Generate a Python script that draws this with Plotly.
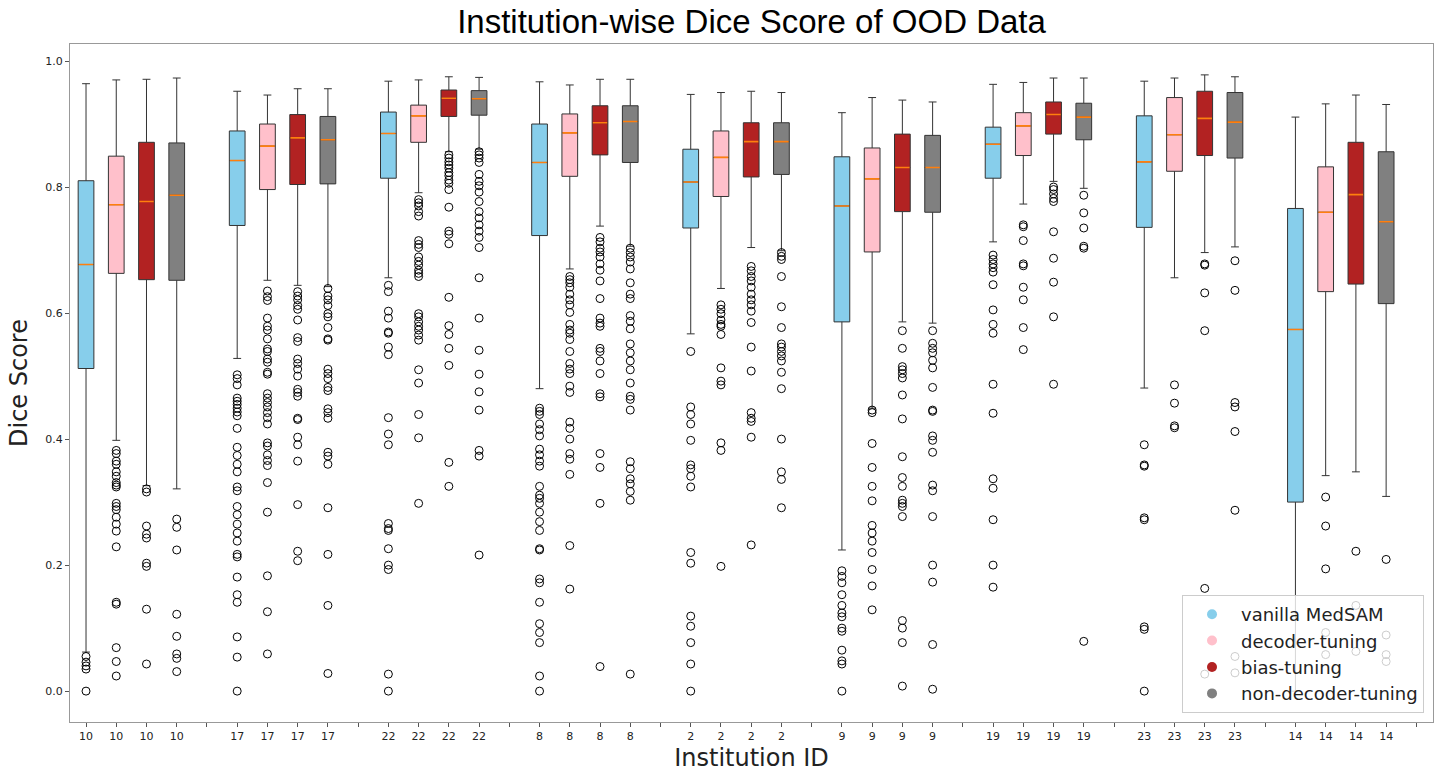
import plotly.graph_objects as go

# institutions in plotting order, methods in legend order
institutions = ["10", "17", "22", "8", "2", "9", "19", "23", "14"]
methods = ["vanilla MedSAM", "decoder-tuning", "bias-tuning", "non-decoder-tuning"]
colors = ["#87CEEB", "#FFC0CB", "#B22222", "#808080"]

# box stats per institution
vanilla_lo = [0.062, 0.528, 0.656, 0.480, 0.567, 0.224, 0.713, 0.481, 0.000]
vanilla_q1 = [0.512, 0.739, 0.814, 0.723, 0.735, 0.586, 0.814, 0.736, 0.300]
vanilla_med = [0.677, 0.842, 0.885, 0.839, 0.808, 0.770, 0.868, 0.840, 0.574]
vanilla_q3 = [0.810, 0.889, 0.919, 0.900, 0.860, 0.848, 0.895, 0.913, 0.766]
vanilla_hi = [0.964, 0.952, 0.968, 0.967, 0.947, 0.918, 0.963, 0.968, 0.911]

decoder_lo = [0.398, 0.652, 0.791, 0.670, 0.639, 0.449, 0.773, 0.656, 0.342]
decoder_q1 = [0.663, 0.796, 0.871, 0.817, 0.785, 0.697, 0.850, 0.825, 0.634]
decoder_med = [0.772, 0.865, 0.913, 0.886, 0.847, 0.813, 0.897, 0.883, 0.760]
decoder_q3 = [0.849, 0.900, 0.930, 0.916, 0.889, 0.862, 0.918, 0.942, 0.832]
decoder_hi = [0.970, 0.946, 0.970, 0.962, 0.950, 0.942, 0.966, 0.973, 0.932]

bias_lo = [0.326, 0.644, 0.856, 0.738, 0.704, 0.586, 0.809, 0.696, 0.348]
bias_q1 = [0.653, 0.804, 0.912, 0.851, 0.816, 0.761, 0.884, 0.850, 0.646]
bias_med = [0.777, 0.878, 0.941, 0.902, 0.872, 0.831, 0.915, 0.909, 0.788]
bias_q3 = [0.871, 0.915, 0.954, 0.929, 0.902, 0.884, 0.935, 0.952, 0.871]
bias_hi = [0.971, 0.956, 0.975, 0.971, 0.952, 0.938, 0.973, 0.978, 0.946]

nondec_lo = [0.321, 0.642, 0.860, 0.706, 0.699, 0.584, 0.798, 0.705, 0.309]
nondec_q1 = [0.652, 0.805, 0.914, 0.839, 0.820, 0.760, 0.875, 0.846, 0.615]
nondec_med = [0.787, 0.875, 0.940, 0.904, 0.872, 0.831, 0.911, 0.903, 0.745]
nondec_q3 = [0.870, 0.912, 0.953, 0.929, 0.902, 0.882, 0.933, 0.950, 0.856]
nondec_hi = [0.973, 0.956, 0.974, 0.971, 0.950, 0.935, 0.973, 0.975, 0.931]

# outliers, one list per institution
vanilla_out = [
    [0.055, 0.046, 0.040, 0.035, 0.0],
    [0.502, 0.496, 0.486, 0.465, 0.460, 0.455, 0.449, 0.443, 0.437, 0.417, 0.387, 0.374, 0.360, 0.348,
     0.324, 0.318, 0.293, 0.280, 0.265, 0.251, 0.238, 0.217, 0.213, 0.181, 0.153, 0.141, 0.086, 0.054, 0.0],
    [0.644, 0.634, 0.603, 0.592, 0.570, 0.568, 0.546, 0.534, 0.434, 0.408, 0.391, 0.266, 0.258, 0.255,
     0.226, 0.200, 0.193, 0.027, 0.0],
    [0.449, 0.444, 0.439, 0.424, 0.415, 0.405, 0.384, 0.375, 0.365, 0.357, 0.325, 0.311, 0.306, 0.298,
     0.284, 0.269, 0.255, 0.226, 0.224, 0.178, 0.172, 0.141, 0.107, 0.093, 0.077, 0.024, 0.0],
    [0.539, 0.451, 0.439, 0.424, 0.398, 0.359, 0.353, 0.341, 0.324, 0.220, 0.203, 0.119, 0.103, 0.077, 0.043, 0.0],
    [0.191, 0.182, 0.172, 0.153, 0.136, 0.124, 0.118, 0.100, 0.095, 0.065, 0.048, 0.043, 0.0],
    [0.692, 0.685, 0.678, 0.672, 0.665, 0.645, 0.605, 0.582, 0.568, 0.487, 0.441, 0.337, 0.322, 0.272, 0.200, 0.165],
    [0.391, 0.359, 0.357, 0.275, 0.272, 0.102, 0.098, 0.0],
    [],
]
decoder_out = [
    [0.382, 0.377, 0.365, 0.360, 0.348, 0.341, 0.331, 0.327, 0.324, 0.298, 0.293, 0.288, 0.276, 0.265,
     0.254, 0.229, 0.141, 0.138, 0.069, 0.047, 0.024],
    [0.635, 0.626, 0.620, 0.592, 0.579, 0.573, 0.559, 0.543, 0.539, 0.527, 0.522, 0.506, 0.503, 0.472,
     0.465, 0.458, 0.451, 0.442, 0.434, 0.424, 0.394, 0.389, 0.375, 0.366, 0.358, 0.331, 0.284, 0.183, 0.126, 0.059],
    [0.780, 0.775, 0.770, 0.761, 0.754, 0.715, 0.709, 0.704, 0.689, 0.682, 0.676, 0.668, 0.663, 0.658,
     0.599, 0.594, 0.586, 0.579, 0.573, 0.565, 0.557, 0.510, 0.489, 0.439, 0.402, 0.298],
    [0.658, 0.653, 0.648, 0.641, 0.630, 0.621, 0.613, 0.601, 0.582, 0.573, 0.568, 0.558, 0.539, 0.520,
     0.511, 0.504, 0.484, 0.474, 0.427, 0.417, 0.400, 0.377, 0.368, 0.344, 0.231, 0.162],
    [0.613, 0.606, 0.599, 0.589, 0.582, 0.579, 0.566, 0.513, 0.492, 0.486, 0.394, 0.382, 0.198],
    [0.446, 0.442, 0.393, 0.355, 0.325, 0.302, 0.263, 0.251, 0.238, 0.220, 0.193, 0.167, 0.129],
    [0.740, 0.737, 0.715, 0.678, 0.675, 0.641, 0.621, 0.577, 0.542],
    [0.486, 0.457, 0.421, 0.418],
    [0.308, 0.262, 0.194, 0.093, 0.058],
]
bias_out = [
    [0.321, 0.316, 0.262, 0.249, 0.243, 0.203, 0.198, 0.130, 0.043],
    [0.634, 0.627, 0.621, 0.612, 0.606, 0.589, 0.561, 0.555, 0.527, 0.520, 0.511, 0.500, 0.479, 0.474,
     0.468, 0.433, 0.431, 0.403, 0.391, 0.365, 0.296, 0.222, 0.207],
    [0.851, 0.846, 0.840, 0.835, 0.830, 0.823, 0.818, 0.811, 0.806, 0.796, 0.768, 0.730, 0.725, 0.710,
     0.625, 0.580, 0.566, 0.544, 0.517, 0.363, 0.325],
    [0.720, 0.713, 0.703, 0.697, 0.689, 0.678, 0.668, 0.651, 0.623, 0.592, 0.584, 0.579, 0.544, 0.539,
     0.524, 0.504, 0.472, 0.467, 0.377, 0.355, 0.298, 0.039],
    [0.674, 0.667, 0.658, 0.651, 0.641, 0.630, 0.621, 0.613, 0.603, 0.585, 0.546, 0.508, 0.442, 0.433,
     0.428, 0.403, 0.232],
    [0.572, 0.544, 0.515, 0.510, 0.504, 0.497, 0.470, 0.432, 0.372, 0.339, 0.325, 0.303, 0.298, 0.293,
     0.277, 0.112, 0.100, 0.077, 0.008],
    [0.800, 0.796, 0.789, 0.782, 0.777, 0.729, 0.687, 0.649, 0.594, 0.487],
    [0.678, 0.676, 0.632, 0.572, 0.163, 0.027],
    [0.222, 0.136, 0.063],
]
nondec_out = [
    [0.273, 0.260, 0.224, 0.122, 0.087, 0.059, 0.052, 0.031],
    [0.639, 0.627, 0.621, 0.612, 0.599, 0.594, 0.577, 0.559, 0.557, 0.511, 0.504, 0.496, 0.482, 0.477,
     0.448, 0.442, 0.433, 0.379, 0.373, 0.360, 0.291, 0.217, 0.136, 0.028],
    [0.856, 0.851, 0.846, 0.839, 0.820, 0.809, 0.802, 0.792, 0.777, 0.761, 0.751, 0.740, 0.730, 0.720,
     0.704, 0.656, 0.592, 0.541, 0.503, 0.475, 0.446, 0.382, 0.373, 0.216],
    [0.703, 0.696, 0.689, 0.681, 0.670, 0.648, 0.630, 0.623, 0.596, 0.587, 0.575, 0.551, 0.537, 0.524,
     0.510, 0.489, 0.468, 0.463, 0.446, 0.364, 0.353, 0.337, 0.329, 0.317, 0.303, 0.027],
    [0.696, 0.690, 0.685, 0.658, 0.610, 0.577, 0.551, 0.546, 0.539, 0.532, 0.524, 0.506, 0.480, 0.400,
     0.348, 0.336, 0.291],
    [0.572, 0.552, 0.544, 0.537, 0.525, 0.513, 0.482, 0.446, 0.444, 0.405, 0.398, 0.379, 0.327, 0.318,
     0.277, 0.200, 0.173, 0.074, 0.003],
    [0.787, 0.759, 0.735, 0.706, 0.703, 0.079],
    [0.683, 0.636, 0.458, 0.451, 0.412, 0.287, 0.055, 0.029],
    [0.209, 0.089, 0.058, 0.047],
]

stats = [
    (vanilla_lo, vanilla_q1, vanilla_med, vanilla_q3, vanilla_hi, vanilla_out),
    (decoder_lo, decoder_q1, decoder_med, decoder_q3, decoder_hi, decoder_out),
    (bias_lo, bias_q1, bias_med, bias_q3, bias_hi, bias_out),
    (nondec_lo, nondec_q1, nondec_med, nondec_q3, nondec_hi, nondec_out),
]

n_groups = len(institutions)
slot = len(methods) + 1  # one empty tick between groups
tickvals = list(range(1, n_groups * slot + 1))
ticktext = [institutions[(t - 1) // slot] if t % slot else "" for t in tickvals]

box_w = 0.52
fig = go.Figure()

for m, (lo, q1, med, q3, hi, outs) in enumerate(stats):
    pos = [g * slot + m + 1 for g in range(n_groups)]
    fig.add_trace(go.Box(
        x=pos, lowerfence=lo, q1=q1, median=med, q3=q3, upperfence=hi,
        width=box_w, whiskerwidth=0.5, boxpoints=False,
        fillcolor=colors[m], line=dict(color="#333333", width=1),
        showlegend=False, hoverinfo="skip",
    ))
    # orange median line drawn as a flat box on top
    fig.add_trace(go.Box(
        x=pos, lowerfence=med, q1=med, median=med, q3=med, upperfence=med,
        width=box_w - 0.04, whiskerwidth=0, boxpoints=False,
        fillcolor="rgba(0,0,0,0)", line=dict(color="#ff7f0e", width=1.6),
        showlegend=False, hoverinfo="skip",
    ))
    ox, oy = [], []
    for g, vals in enumerate(outs):
        ox += [pos[g]] * len(vals)
        oy += vals
    fig.add_trace(go.Scatter(
        x=ox, y=oy, mode="markers",
        marker=dict(symbol="circle-open", size=8, color="black", line=dict(width=1)),
        showlegend=False, hoverinfo="skip",
    ))

# legend entries
for m, name in enumerate(methods):
    fig.add_trace(go.Scatter(
        x=[None], y=[None], mode="markers", name=name,
        marker=dict(symbol="circle", size=10, color=colors[m]),
    ))

fig.update_layout(
    width=1440, height=775,
    margin=dict(l=70, r=7, t=44, b=53),
    paper_bgcolor="white", plot_bgcolor="white",
    boxmode="overlay",
    font=dict(family="DejaVu Sans", color="#222222"),
    title=dict(text="Institution-wise Dice Score of OOD Data", x=0.5, xref="paper",
               y=0.972, yanchor="middle",
               font=dict(family="Liberation Sans, Arial", size=33, color="black")),
    legend=dict(x=0.9934, y=0.0133, xanchor="right", yanchor="bottom",
                bgcolor="rgba(255,255,255,0.8)", bordercolor="#cccccc", borderwidth=1,
                font=dict(size=18, color="#222222"), itemwidth=48, tracegroupgap=0),
)
fig.update_xaxes(
    range=[0.47, 45.55], tickmode="array", tickvals=tickvals, ticktext=ticktext,
    showline=True, mirror=True, linecolor="#999999", linewidth=1,
    ticks="outside", ticklen=4, tickcolor="#555555", tickfont=dict(size=11),
    showgrid=False, zeroline=False,
    title=dict(text="Institution ID", font=dict(size=24), standoff=6),
)
fig.update_yaxes(
    range=[-0.049, 1.027], tickvals=[0.0, 0.2, 0.4, 0.6, 0.8, 1.0], tickformat=".1f",
    showline=True, mirror=True, linecolor="#999999", linewidth=1,
    ticks="outside", ticklen=4, tickcolor="#555555", tickfont=dict(size=11),
    showgrid=False, zeroline=False,
    title=dict(text="Dice Score", font=dict(size=24), standoff=10),
)

# drop the default 8px page margin so the figure sits at the window origin
fig.write_html("out.html", config={"displayModeBar": False},
               post_script="document.body.style.margin='0px';")
